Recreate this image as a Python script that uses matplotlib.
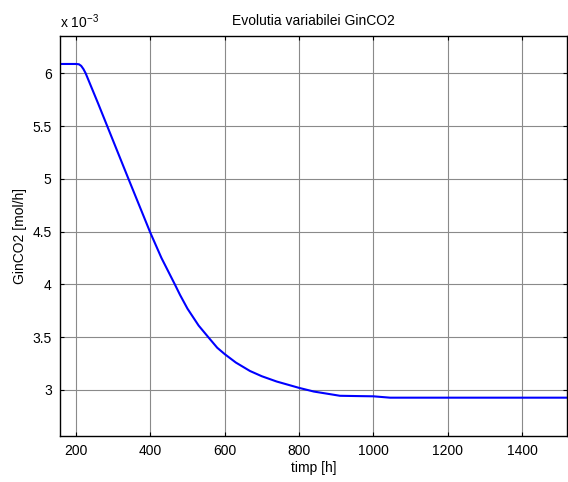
import numpy as np
import matplotlib
matplotlib.use("Agg")
import matplotlib.pyplot as plt

plt.rcParams['font.family'] = ['Liberation Sans', 'DejaVu Sans']
plt.rcParams['mathtext.default'] = 'regular'

# time [h] and GinCO2 [x 1e-3 mol/h]
timp = [157, 200, 208, 214, 220, 226, 260, 300, 340, 370, 400, 430, 466,
        480, 500, 530, 556, 580, 600, 630, 668, 700, 740, 780, 800, 840,
        884, 910, 960, 1000, 1045, 1521]
gin_co2 = [6.088, 6.088, 6.085, 6.07, 6.04, 6.00, 5.71, 5.36, 5.01, 4.75,
           4.49, 4.25, 4.00, 3.90, 3.77, 3.61, 3.50, 3.40, 3.34, 3.26, 3.18,
           3.13, 3.08, 3.04, 3.02, 2.985, 2.96, 2.945, 2.942, 2.94, 2.927,
           2.927]

xticks = [200, 400, 600, 800, 1000, 1200, 1400]
yticks = [3, 3.5, 4, 4.5, 5, 5.5, 6]
ytick_labels = ['3', '3.5', '4', '4.5', '5', '5.5', '6']

fig = plt.figure(figsize=(5.68, 4.82), dpi=100)
ax = fig.add_axes([60 / 568, 46 / 482, 507 / 568, 400 / 482])

ax.plot(timp, gin_co2, color='#0000ff', lw=1.5)

ax.set_xlim(157, 1521)
ax.set_ylim(2.564, 6.353)
ax.set_xticks(xticks)
ax.set_yticks(yticks)
ax.set_yticklabels(ytick_labels)
ax.grid(True, color='#8a8a8a', lw=0.8)
ax.tick_params(direction='in', length=3, width=0.8, labelsize=10,
               top=True, right=True, pad=6)
for s in ax.spines.values():
    s.set_linewidth(1.0)

ax.set_title('Evolutia variabilei GinCO2', fontsize=10, pad=8)
ax.set_xlabel('timp [h]', fontsize=10, labelpad=2)
ax.set_ylabel('GinCO2 [mol/h]', fontsize=10, labelpad=4)
ax.text(0.0, 1.012, r'x 10$^{-3}$', transform=ax.transAxes, fontsize=10,
        ha='left', va='bottom')

fig.savefig('out.png', dpi=100)
